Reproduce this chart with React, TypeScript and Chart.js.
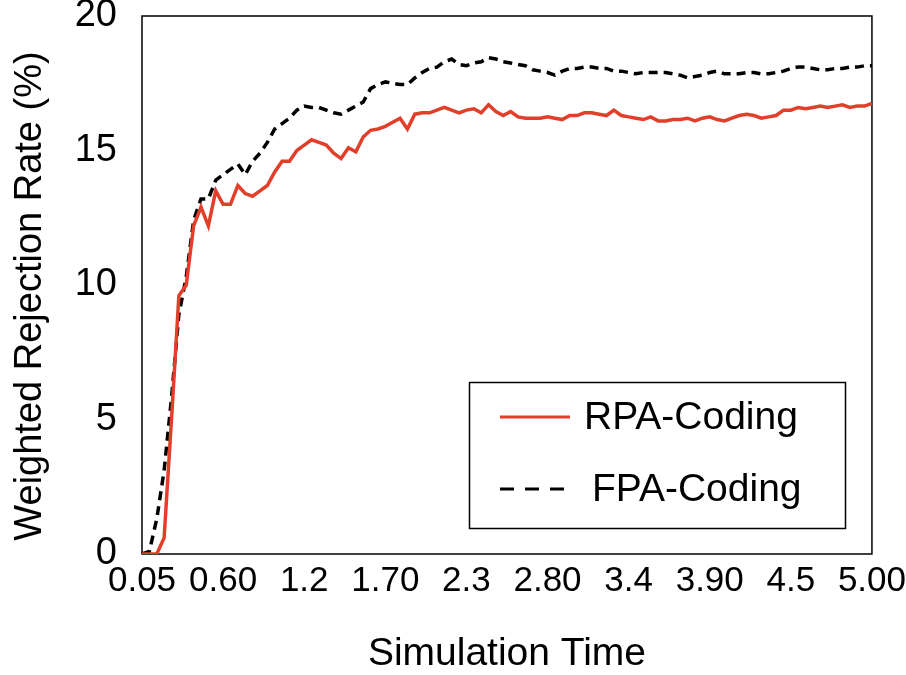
import React, { useEffect, useRef } from "react";
import { Chart, registerables } from "chart.js";

Chart.register(...registerables);

const TIMES = [
  "0.05", "0.10", "0.15", "0.20", "0.25", "0.30", "0.35", "0.40", "0.45", "0.50",
  "0.55", "0.60", "0.65", "0.70", "0.75", "0.80", "0.85", "0.90", "0.95", "1.00",
  "1.05", "1.10", "1.15", "1.20", "1.25", "1.30", "1.35", "1.40", "1.45", "1.50",
  "1.55", "1.60", "1.65", "1.70", "1.75", "1.80", "1.85", "1.90", "1.95", "2.00",
  "2.05", "2.10", "2.15", "2.20", "2.25", "2.30", "2.35", "2.40", "2.45", "2.50",
  "2.55", "2.60", "2.65", "2.70", "2.75", "2.80", "2.85", "2.90", "2.95", "3.00",
  "3.05", "3.10", "3.15", "3.20", "3.25", "3.30", "3.35", "3.40", "3.45", "3.50",
  "3.55", "3.60", "3.65", "3.70", "3.75", "3.80", "3.85", "3.90", "3.95", "4.00",
  "4.05", "4.10", "4.15", "4.20", "4.25", "4.30", "4.35", "4.40", "4.45", "4.50",
  "4.55", "4.60", "4.65", "4.70", "4.75", "4.80", "4.85", "4.90", "4.95", "5.00",
];

const TICK_LABELS = ["0.05", "0.60", "1.2", "1.70", "2.3", "2.80", "3.4", "3.90", "4.5", "5.00"];
const TICK_EVERY = 11;

const RPA = [
  0, 0, 0, 0.6, 5.0, 9.6, 10.0, 12.2, 12.9, 12.2,
  13.5, 13.0, 13.0, 13.7, 13.4, 13.3, 13.5, 13.7, 14.2, 14.6,
  14.6, 15.0, 15.2, 15.4, 15.3, 15.2, 14.9, 14.7, 15.1, 14.95,
  15.5, 15.75, 15.8, 15.9, 16.05, 16.2, 15.8, 16.35, 16.4, 16.4,
  16.5, 16.6, 16.5, 16.4, 16.5, 16.55, 16.4, 16.7, 16.45, 16.3,
  16.45, 16.25, 16.2, 16.2, 16.2, 16.25, 16.2, 16.15, 16.3, 16.3,
  16.4, 16.4, 16.35, 16.3, 16.5, 16.3, 16.25, 16.2, 16.15, 16.25,
  16.1, 16.1, 16.15, 16.15, 16.2, 16.1, 16.2, 16.25, 16.15, 16.1,
  16.2, 16.3, 16.35, 16.3, 16.2, 16.25, 16.3, 16.5, 16.5, 16.6,
  16.55, 16.6, 16.65, 16.6, 16.65, 16.7, 16.6, 16.65, 16.65, 16.75,
];

const FPA = [
  0, 0.1, 1.3, 3.1, 5.8, 8.9, 10.3, 12.4, 13.2, 13.2,
  13.9, 14.1, 14.3, 14.5, 14.1, 14.6, 14.9, 15.3, 15.8, 16.0,
  16.2, 16.5, 16.65, 16.6, 16.6, 16.5, 16.4, 16.35, 16.5, 16.65,
  16.8, 17.3, 17.45, 17.55, 17.5, 17.45, 17.45, 17.7, 17.9, 18.05,
  18.1, 18.3, 18.4, 18.2, 18.15, 18.25, 18.3, 18.45, 18.4, 18.3,
  18.25, 18.2, 18.15, 18.0, 17.95, 17.9, 17.8, 17.95, 18.05, 18.05,
  18.1, 18.1, 18.05, 18.05, 17.95, 17.95, 17.9, 17.85, 17.9, 17.9,
  17.9, 17.9, 17.85, 17.8, 17.7, 17.75, 17.8, 17.9, 17.95, 17.85,
  17.85, 17.85, 17.9, 17.9, 17.85, 17.85, 17.9, 17.95, 18.05, 18.1,
  18.1, 18.05, 18.0, 18.0, 18.05, 18.05, 18.1, 18.1, 18.15, 18.15,
];

const SERIES_NAMES = ["RPA-Coding", "FPA-Coding"];
const Y_TITLE = "Weighted Rejection Rate (%)";
const X_TITLE = "Simulation Time";
const RED = "#E23F2B";
const FONT = '"Liberation Sans", Arial, Helvetica, sans-serif';

const framePlugin = {
  id: "frame",
  beforeDatasetsDraw(chart: any) {
    const { ctx, chartArea } = chart;
    const { left, top, right, bottom } = chartArea;
    ctx.save();
    ctx.strokeStyle = "#000";
    ctx.lineWidth = 1.5;
    ctx.strokeRect(left, top, right - left, bottom - top);
    ctx.restore();
  },
};

const yTitlePlugin = {
  id: "yTitle",
  afterDraw(chart: any) {
    const { ctx } = chart;
    ctx.save();
    ctx.translate(31, 296);
    ctx.rotate(-Math.PI / 2);
    ctx.fillStyle = "#000";
    ctx.font = `38px ${FONT}`;
    ctx.textAlign = "center";
    ctx.textBaseline = "middle";
    ctx.fillText(Y_TITLE, 0, 0);
    ctx.restore();
  },
};

const boxLegendPlugin = {
  id: "boxLegend",
  afterDraw(chart: any) {
    const { ctx } = chart;
    const bx = 469.5, by = 382.5, bw = 376, bh = 146;
    ctx.save();
    ctx.fillStyle = "#fff";
    ctx.fillRect(bx, by, bw, bh);
    ctx.strokeStyle = "#000";
    ctx.lineWidth = 1.5;
    ctx.strokeRect(bx, by, bw, bh);
    const items = [
      { y: 417, tx: 584 },
      { y: 489, tx: 592 },
    ];
    chart.data.datasets.forEach((ds: any, i: number) => {
      const it = items[i];
      ctx.beginPath();
      ctx.strokeStyle = ds.borderColor;
      ctx.lineWidth = 3;
      ctx.setLineDash(ds.borderDash && ds.borderDash.length ? [14, 11] : []);
      ctx.moveTo(500, it.y);
      ctx.lineTo(570, it.y);
      ctx.stroke();
      ctx.setLineDash([]);
      ctx.fillStyle = "#000";
      ctx.font = `39px ${FONT}`;
      ctx.textBaseline = "middle";
      ctx.textAlign = "left";
      ctx.fillText(ds.label, it.tx, it.y + 1);
    });
    ctx.restore();
  },
};

export default function App() {
  const canvasRef = useRef<HTMLCanvasElement | null>(null);

  useEffect(() => {
    const canvas = canvasRef.current;
    if (!canvas) return;
    const chart = new Chart(canvas, {
      type: "line",
      data: {
        labels: TIMES,
        datasets: [
          {
            label: SERIES_NAMES[0],
            data: RPA,
            borderColor: RED,
            backgroundColor: RED,
            borderWidth: 3.5,
            pointRadius: 0,
            tension: 0,
            fill: false,
          },
          {
            label: SERIES_NAMES[1],
            data: FPA,
            borderColor: "#000",
            backgroundColor: "#000",
            borderWidth: 3.5,
            borderDash: [9, 6],
            pointRadius: 0,
            tension: 0,
            fill: false,
          },
        ],
      },
      options: {
        animation: false,
        responsive: false,
        devicePixelRatio: 1,
        layout: { padding: { left: 0, right: 34, top: 16, bottom: 0 } },
        plugins: {
          legend: { display: false },
          tooltip: { enabled: false },
        },
        scales: {
          x: {
            type: "category",
            offset: false,
            grid: { display: false, drawTicks: true, tickLength: 10 },
            border: { display: false },
            ticks: {
              autoSkip: false,
              maxRotation: 0,
              minRotation: 0,
              padding: 0,
              color: "#000",
              font: { family: FONT, size: 35, lineHeight: 1 },
              callback: (_v: any, index: number) =>
                index % TICK_EVERY === 0 ? TICK_LABELS[index / TICK_EVERY] : null,
            },
            title: {
              display: true,
              text: X_TITLE,
              color: "#000",
              font: { family: FONT, size: 39, lineHeight: 1 },
              padding: { top: 0, bottom: 1 },
            },
            afterFit: (scale: any) => {
              scale.height = 121;
            },
          },
          y: {
            min: 0,
            max: 20,
            grid: { display: false, drawTicks: true, tickLength: 25 },
            border: { display: false },
            ticks: {
              stepSize: 5,
              padding: 0,
              color: "#000",
              font: { family: FONT, size: 38, lineHeight: 0.8 },
            },
            title: { display: false },
            afterFit: (scale: any) => {
              scale.width = 142;
            },
          },
        },
      },
      plugins: [framePlugin, yTitlePlugin, boxLegendPlugin],
    });
    return () => chart.destroy();
  }, []);

  return (
    <div style={{ position: "fixed", left: 0, top: 0, width: 906, height: 675, background: "#fff" }}>
      <canvas ref={canvasRef} width={906} height={675} style={{ width: 906, height: 675, display: "block" }} />
    </div>
  );
}
